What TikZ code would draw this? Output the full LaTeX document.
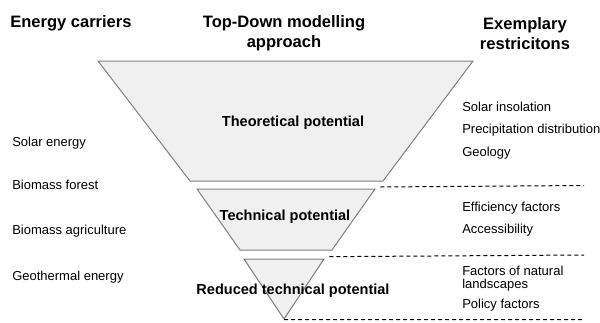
\documentclass[tikz,border=0pt]{standalone}
\usepackage{fontspec}
\setmainfont{Liberation Sans}

\tikzset{
  funnel/.style={draw={rgb, 255:red, 128; green, 128; blue, 128}, fill={rgb, 255:red, 240; green, 240; blue, 240}, line width=0.75},
  limit/.style={dash pattern={on 3pt off 2.25pt}, line width=0.75},
  headtxt/.style={inner sep=0.75pt, font=\fontsize{12.4}{15}\selectfont\bfseries, align=center},
  pottxt/.style={inner sep=0.75pt, font=\fontsize{10.9}{13}\selectfont\bfseries},
  itemtxt/.style={anchor=west, inner sep=0.75pt, font=\fontsize{9.75}{10}\selectfont, align=left}
}

\begin{document}
\begin{tikzpicture}[x=0.75pt,y=0.75pt,yscale=-1,xscale=1]
\useasboundingbox (0,0) rectangle (600,322);

%Shape: Trapezoid [theoretical]
\draw [funnel] (98,61) -- (473,61) -- (383,181) coordinate (theoBR) -- (190,181) -- cycle ;
%Shape: Trapezoid [technical]
\draw [funnel] (197,189) -- (375,189) -- (332,250) coordinate (techBR) -- (240,250) -- cycle ;
%Shape: Triangle [reduced]
\draw [funnel] (244,259) -- (324,259) -- (284,319) coordinate (reduB) -- cycle ;

%Straight Lines [separators]
\draw [limit] ([xshift=-2,yshift=4.5]theoBR) -- (584,185.5) ;
\draw [limit] ([xshift=-2,yshift=5]techBR) -- (584,255) ;
\draw [limit] ([yshift=0.5]reduB) -- (584,319.5) ;

% Text Node
\node (carriers) [headtxt, anchor=west] at (9,23.5) {Energy carriers};
% Text Node
\node (approach) [headtxt] at (284,33.5) {Top-Down modelling\\approach};
% Text Node
\node (restrict) [headtxt] at (525,33.5) {Exemplary\\restricitons};

% Text Node
\node (theo) [pottxt] at (293,122.5) {Theoretical potential};
% Text Node
\node (tech) [pottxt] at (285,216.5) {Technical potential};
% Text Node
\node (redu) [pottxt] at (293,290.5) {Reduced technical potential};

% Text Node
\node (solar) [itemtxt] at (11,143.5) {Solar energy};
% Text Node
\node (forest) [itemtxt] at (11,184.5) {Biomass forest};
% Text Node
\node (agri) [itemtxt] at (11,231.5) {Biomass agriculture};
% Text Node
\node (geo) [itemtxt] at (11,277.5) {Geothermal energy};

% Text Node
\node (insol) [itemtxt] at (461,106.5) {Solar insolation};
% Text Node
\node (precip) [itemtxt] at (461,130) {Precipitation distribution};
% Text Node
\node (geol) [itemtxt] at (461,153) {Geology};
% Text Node
\node (effic) [itemtxt] at (461,208) {Efficiency factors};
% Text Node
\node (access) [itemtxt] at (461,230) {Accessibility};
% Text Node
\node (natur) [itemtxt] at (461,278.5) {Factors of natural\\landscapes};
% Text Node
\node (policy) [itemtxt] at (461,305) {Policy factors};

\end{tikzpicture}
\end{document}
